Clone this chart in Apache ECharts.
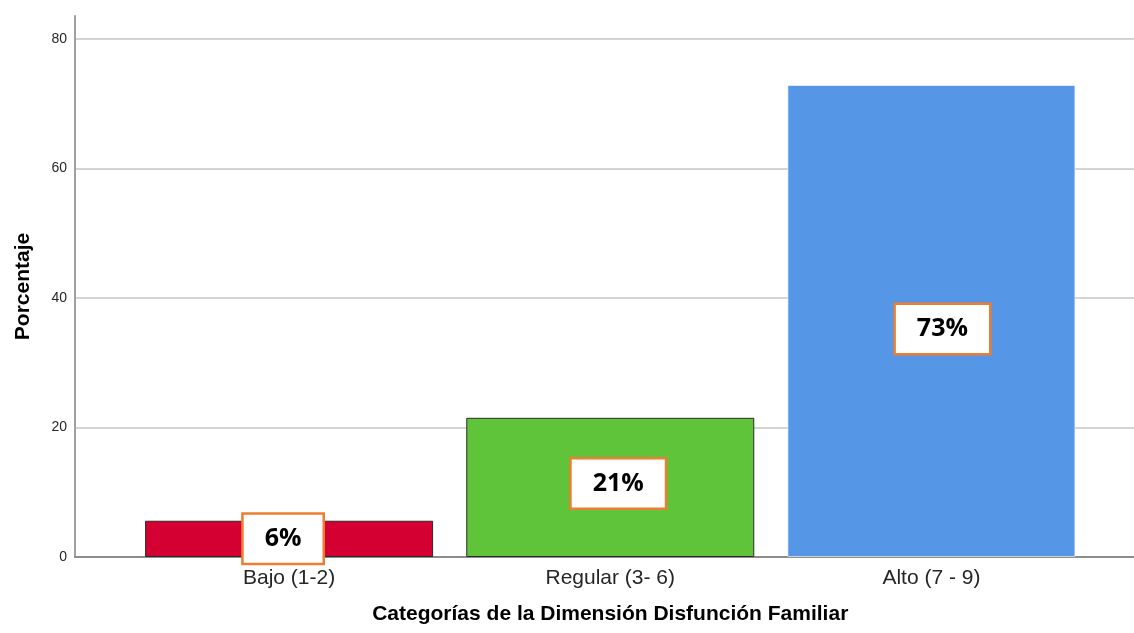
<!DOCTYPE html>
<html>
<head>
<meta charset="utf-8">
<script src="https://cdn.jsdelivr.net/npm/echarts@6/dist/echarts.min.js"></script>
<style>
  html, body { margin: 0; padding: 0; background: #fff; }
  #chart { width: 1134px; height: 633px; }
</style>
</head>
<body>
<div id="chart"></div>
<script>
  // datos
  const categories = ['Bajo (1-2)', 'Regular (3- 6)', 'Alto (7 - 9)'];
  const percentages = [5.6, 21.5, 72.9];
  const pctLabels = ['6%', '21%', '73%'];
  const yTicks = [0, 20, 40, 60, 80];

  const barColors = ['#D50032', '#5FC43A', '#5596E6'];
  const barBorders = ['#2b2b2b', '#2b2b2b', 'rgba(255,255,255,0.6)'];
  // las cajas de texto no están exactamente centradas en el original
  const labelShift = [[-6, 0], [8, -4], [11, 8]];

  let myChart = echarts.init(document.getElementById('chart'));

  const yMax = 83.56;

  myChart.setOption({
    animation: false,
    grid: [
      { left: 75, right: 0, top: 16, bottom: 76 },
      { left: 128.5, right: 42, top: 16, bottom: 76 }
    ],
    xAxis: [{
      gridIndex: 0,
      type: 'category',
      data: categories,
      axisLine: { lineStyle: { color: '#8c8c8c', width: 2 } },
      axisTick: { show: false },
      axisLabel: { show: false }
    }, {
      gridIndex: 1,
      type: 'category',
      data: categories,
      axisLine: { show: false },
      axisTick: { show: false },
      axisLabel: {
        margin: 11,
        fontFamily: 'Liberation Sans',
        fontSize: 21,
        color: '#262626'
      },
      name: 'Categorías de la Dimensión Disfunción Familiar',
      nameLocation: 'middle',
      nameGap: 47,
      nameTextStyle: {
        fontFamily: 'Liberation Sans',
        fontSize: 21,
        fontWeight: 'bold',
        color: '#000'
      }
    }],
    yAxis: [{
      gridIndex: 0,
      type: 'value',
      min: yTicks[0],
      max: yMax,
      interval: 20,
      axisLine: { show: true, lineStyle: { color: '#a0a0a0', width: 2 } },
      axisTick: { show: false },
      axisLabel: {
        margin: 8,
        fontFamily: 'Liberation Sans',
        fontSize: 14,
        color: '#262626',
        showMaxLabel: false,
        formatter: v => (yTicks.indexOf(v) >= 0 ? String(v) : '')
      },
      splitLine: { show: true, showMaxLine: false, lineStyle: { color: '#d4d4d4', width: 2 } },
      name: 'Porcentaje',
      nameLocation: 'middle',
      nameGap: 41,
      nameTextStyle: {
        fontFamily: 'Liberation Sans',
        fontSize: 21,
        fontWeight: 'bold',
        color: '#000'
      }
    }, {
      gridIndex: 1,
      type: 'value',
      min: yTicks[0],
      max: yMax,
      show: false,
      splitLine: { show: false }
    }],
    series: [{
      type: 'bar',
      xAxisIndex: 1,
      yAxisIndex: 1,
      barWidth: 288,
      data: percentages.map((v, i) => ({
        value: v,
        itemStyle: { color: barColors[i], borderColor: barBorders[i], borderWidth: 1 },
        label: { offset: labelShift[i] }
      })),
      label: {
        show: true,
        position: 'inside',
        formatter: p => pctLabels[p.dataIndex],
        fontFamily: 'Open Sans',
        fontWeight: 'bold',
        fontSize: 25,
        lineHeight: 26,
        color: '#000',
        backgroundColor: '#fff',
        borderColor: '#ED7D31',
        borderWidth: 2.5,
        padding: [11, 21]
      }
    }]
  });

  window.addEventListener('resize', () => {
    myChart.resize();
  });
</script>
</body>
</html>
